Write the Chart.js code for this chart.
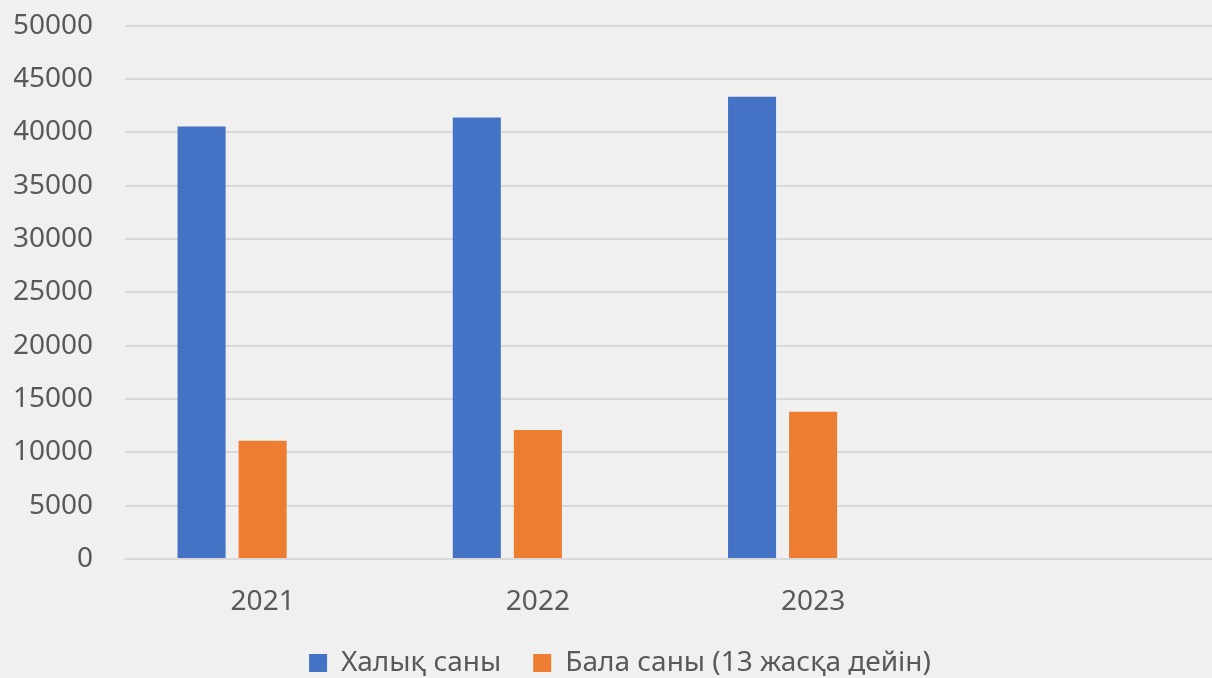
<!DOCTYPE html>
<html>
<head>
<meta charset="utf-8">
<script src="https://cdn.jsdelivr.net/npm/chart.js@4.4.1/dist/chart.umd.min.js"></script>
<style>
	html, body { margin: 0; padding: 0; background: #f0f0f0; overflow: hidden; }
	#wrap { width: 1226px; height: 710px; margin-top: -23px; }
</style>
</head>
<body>
<div id="wrap"><canvas id="chart"></canvas></div>
<script>
// data
var years = ['2021', '2022', '2023', ''];
var population = [40550, 41400, 43350, null];
var children = [11100, 12100, 13800, null];
var yTicks = [0, 5000, 10000, 15000, 20000, 25000, 30000, 35000, 40000, 45000, 50000];

var textColor = '#595959';
var fontFamily = "'Noto Sans', 'Open Sans', sans-serif";

var ctx = document.getElementById('chart');
var chart = new Chart(ctx, {
	type: 'bar',
	data: {
		labels: years,
		datasets: [
			{
				label: 'Халық саны',
				backgroundColor: '#4472c4',
				data: population
			},
			{
				label: 'Бала саны (13 жасқа дейін)',
				backgroundColor: '#ed7d31',
				data: children
			},
			{
				// empty third series, keeps the bar groups offset like the original
				label: '',
				backgroundColor: 'rgba(0,0,0,0)',
				data: [null, null, null, null]
			}
		]
	},
	options: {
		responsive: true,
		maintainAspectRatio: false,
		animation: false,
		datasets: {
			bar: {
				categoryPercentage: 0.6655,
				barPercentage: 0.787
			}
		},
		layout: {
			padding: { left: 14, right: 0, top: 5, bottom: 0 }
		},
		scales: {
			x: {
				grid: { display: false },
				border: { display: true, color: '#d9d9d9', width: 2 },
				afterFit: function(axis) { axis.height = 58; },
				ticks: {
					color: textColor,
					padding: 18,
					font: { family: fontFamily, size: 28 }
				}
			},
			y: {
				min: 0,
				max: 50000,
				afterBuildTicks: function(axis) {
					axis.ticks = yTicks.map(function(v) { return { value: v }; });
				},
				afterFit: function(axis) { axis.width = 111; },
				grid: { color: '#d9d9d9', lineWidth: 2, drawTicks: false },
				border: { display: false },
				ticks: {
					color: textColor,
					padding: 32,
					font: { family: fontFamily, size: 28 },
					callback: function(v) { return String(v); }
				}
			}
		},
		plugins: {
			tooltip: { enabled: false },
			legend: {
				position: 'bottom',
				labels: {
					color: textColor,
					boxWidth: 18,
					boxHeight: 18,
					padding: 32,
					font: { family: fontFamily, size: 28 },
					filter: function(item) { return item.text !== ''; }
				}
			}
		}
	}
});
</script>
</body>
</html>
